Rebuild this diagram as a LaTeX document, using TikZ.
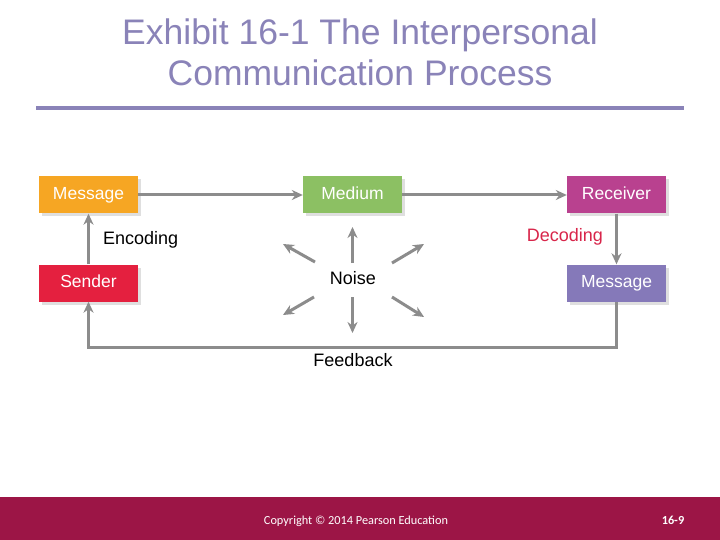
\documentclass[tikz,border=0pt]{standalone}
\usepackage{fontspec}
\setmainfont{Liberation Sans}
\newfontfamily\footfont{Carlito}
\usetikzlibrary{arrows.meta,shadows}
\definecolor{titlec}{HTML}{8A83B8}
\definecolor{orangec}{HTML}{F6A623}
\definecolor{greenc}{HTML}{8CC063}
\definecolor{magc}{HTML}{B9418F}
\definecolor{redc}{HTML}{E4203F}
\definecolor{purc}{HTML}{8579B9}
\definecolor{grayc}{HTML}{8C8C8C}
\definecolor{decc}{HTML}{D8254A}
\definecolor{footc}{HTML}{9C1546}
\begin{document}
\begin{tikzpicture}[x=1pt,y=-1pt,
  box/.style={minimum width=99pt,minimum height=37pt,inner sep=0pt,text=white,
    text height=12.5pt,text depth=3.5pt,
    font=\fontsize{17.5}{20}\selectfont,
    drop shadow={opacity=0.25,shadow xshift=3pt,shadow yshift=-3pt}},
  conn/.style={draw=grayc,line width=3pt,-{Stealth[length=11pt,width=10pt]}},
  lbl/.style={font=\fontsize{18}{21}\selectfont,inner sep=0pt}]
\useasboundingbox (0,0) rectangle (720,540);
\fill[white] (0,0) rectangle (720,540);
% title
\node[text=titlec,font=\fontsize{35.5}{41}\selectfont,align=center,inner sep=0pt] (title) at (360,52) {Exhibit 16-1 The Interpersonal\\Communication Process};
\fill[titlec] (36,106.5) rectangle (684,110);
% boxes
\node[box,fill=orangec] (msg1) at (88.5,195) {Message};
\node[box,fill=greenc] (med) at (352.5,195) {Medium};
\node[box,fill=magc] (rec) at (616.5,195) {Receiver};
\node[box,fill=redc] (snd) at (88.5,283) {Sender};
\node[box,fill=purc] (msg2) at (616.5,283) {Message};
% connectors
\draw[conn] (msg1) -- (med);
\draw[conn] (med) -- (rec);
\draw[conn] (snd) -- (msg1);
\draw[conn] (rec) -- (msg2);
\coordinate (fbR) at (616.5,347);
\coordinate (fbL) at (88.5,347);
\draw[conn] (msg2.south) -- (fbR) -- (fbL) -- (snd.south);
% labels
\node[lbl,anchor=west] (enc) at (103,240) {Encoding};
\node[lbl,anchor=east,text=decc] (dec) at (603,237) {Decoding};
\node[lbl] (noise) at (353,278) {Noise};
\node[lbl] (fb) at (353,360) {Feedback};
% noise arrows
\coordinate (n1) at (352.5,263); \coordinate (n1e) at (352.5,227);
\coordinate (n2) at (352.5,297); \coordinate (n2e) at (352.5,333);
\coordinate (n3) at (315,262); \coordinate (n3e) at (283,244);
\coordinate (n4) at (392,263); \coordinate (n4e) at (424,244);
\coordinate (n5) at (314,297); \coordinate (n5e) at (283,315);
\coordinate (n6) at (392,297); \coordinate (n6e) at (424,317);
\draw[conn] (n1) -- (n1e);
\draw[conn] (n2) -- (n2e);
\draw[conn] (n3) -- (n3e);
\draw[conn] (n4) -- (n4e);
\draw[conn] (n5) -- (n5e);
\draw[conn] (n6) -- (n6e);
% footer
\fill[footc] (0,497) rectangle (720,540);
\node[text=white,font=\footfont\fontsize{12.3}{14}\selectfont,inner sep=0pt] (copy) at (356,521) {Copyright © 2014 Pearson Education};
\node[text=white,font=\footfont\bfseries\fontsize{12.3}{14}\selectfont,inner sep=0pt] (pg) at (673,520) {16-9};
\end{tikzpicture}
\end{document}
